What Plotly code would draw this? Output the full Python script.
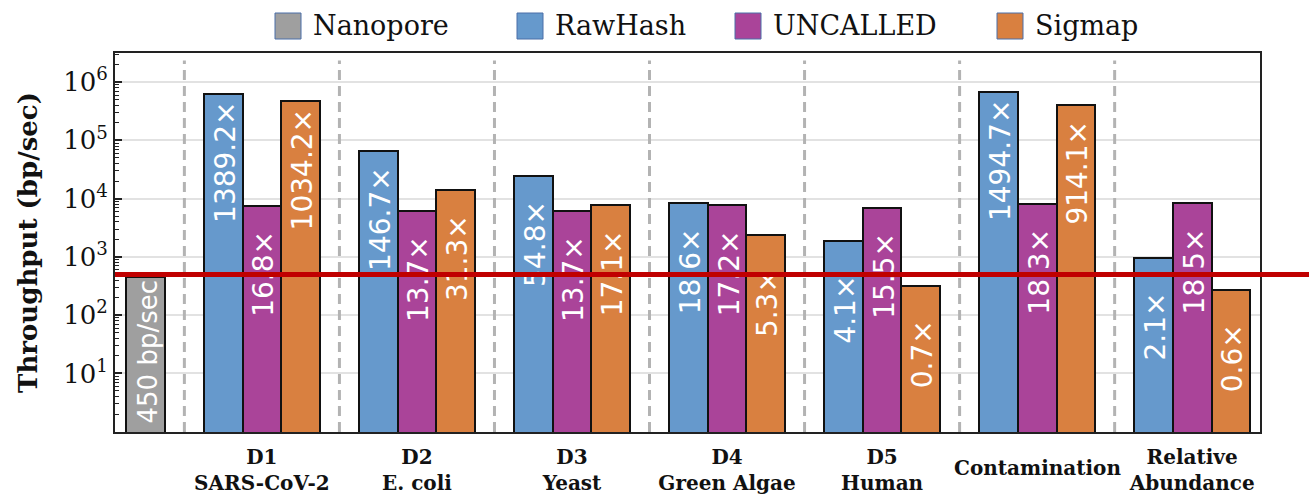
import math
import plotly.graph_objects as go

# ---------------- data ----------------
datasets = ["D1<br>SARS-CoV-2", "D2<br>E. coli", "D3<br>Yeast", "D4<br>Green Algae",
            "D5<br>Human", "Contamination", "Relative<br>Abundance"]
series_names = ["RawHash", "UNCALLED", "Sigmap"]
nanopore_name = "Nanopore"
nanopore_value = 450
nanopore_label = "450 bp/sec"
reference_line = 500

rawhash_values = [625140, 66015, 24660, 8370, 1845, 672615, 945]
uncalled_values = [7560, 6165, 6165, 7740, 6975, 8235, 8325]
sigmap_values = [465390, 14085, 7695, 2385, 315, 411345, 270]

rawhash_labels = ["1389.2×", "146.7×", "54.8×", "18.6×", "4.1×", "1494.7×", "2.1×"]
uncalled_labels = ["16.8×", "13.7×", "13.7×", "17.2×", "15.5×", "18.3×", "18.5×"]
sigmap_labels = ["1034.2×", "31.3×", "17.1×", "5.3×", "0.7×", "914.1×", "0.6×"]

y_tick_exponents = [1, 2, 3, 4, 5, 6]

# ---------------- style ----------------
colors = {"Nanopore": "#9f9f9f", "RawHash": "#6699cc", "UNCALLED": "#aa4499", "Sigmap": "#d98040"}
SERIF = "DejaVu Serif"
SANS = "DejaVu Sans"
GROUP_STEP = 4
offsets = [-1, 0, 1]
NANO_X = -3
X_RANGE = [-3.79, 25.75]
LABEL_DROP = 1.17       # decades below bar top where the label is centred
NANO_LABEL_DROP = 1.28

values = [rawhash_values, uncalled_values, sigmap_values]
labels = [rawhash_labels, uncalled_labels, sigmap_labels]
centers = [GROUP_STEP * i for i in range(len(datasets))]

PLOT_L, PLOT_W, PLOT_B, PLOT_H = 115, 1145, 432, 379

fig = go.Figure()

fig.add_trace(go.Bar(
    x=[NANO_X], y=[nanopore_value], width=1, name=nanopore_name,
    marker=dict(color=colors[nanopore_name], line=dict(color="#111111", width=2)),
    showlegend=False, hoverinfo="skip"))

for name, off, vals in zip(series_names, offsets, values):
    fig.add_trace(go.Bar(
        x=[c + off for c in centers], y=vals, width=1, name=name,
        marker=dict(color=colors[name], line=dict(color="#111111", width=2)),
        showlegend=False))

shapes = []

# dashed separators
for c in centers:
    shapes.append(dict(type="line", xref="x", yref="paper", x0=c - GROUP_STEP / 2, x1=c - GROUP_STEP / 2,
                       y0=0, y1=0.98, line=dict(color="#b3b3b3", width=3, dash="10px,6px"), layer="above"))


def label_shape(x, v, txt, drop, size):
    mid = math.log10(v) - drop
    return dict(type="rect", xref="x", yref="y", x0=x - 0.5, x1=x + 0.5,
                y0=10 ** (mid - 0.3), y1=10 ** (mid + 0.3),
                line=dict(width=0), fillcolor="rgba(0,0,0,0)", layer="above",
                label=dict(text=txt, textangle=-90, textposition="middle center",
                           font=dict(family=SANS, size=size, color="white")))


shapes.append(label_shape(NANO_X, nanopore_value, nanopore_label, NANO_LABEL_DROP, 26))
for off, vals, labs in zip(offsets, values, labels):
    for c, v, t in zip(centers, vals, labs):
        shapes.append(label_shape(c + off, v, t, LABEL_DROP, 28))

# red reference line (extends beyond plot area to the right)
shapes.append(dict(type="line", xref="paper", yref="y", x0=0, x1=1.06,
                   y0=reference_line, y1=reference_line,
                   line=dict(color="#c00000", width=5), layer="above"))

# manual legend
legend_names = [nanopore_name] + series_names
legend_square_px = [275, 517, 735, 997]
annotations = []
for name, px in zip(legend_names, legend_square_px):
    shapes.append(dict(type="rect", xref="paper", yref="paper",
                       x0=(px - PLOT_L) / PLOT_W, x1=(px + 26 - PLOT_L) / PLOT_W,
                       y0=(PLOT_B - 39) / PLOT_H, y1=(PLOT_B - 13) / PLOT_H,
                       fillcolor=colors[name], line=dict(color="#4a6fa8", width=1)))
    annotations.append(dict(xref="paper", yref="paper", x=(px + 36 - PLOT_L) / PLOT_W,
                            y=(PLOT_B - 26) / PLOT_H, xanchor="left", yanchor="middle",
                            text=name, showarrow=False,
                            font=dict(family=SERIF, size=27, color="#111111")))

# single-line category label centred between the two label lines
ticktext = []
for c, d in zip(centers, datasets):
    if "<br>" in d:
        ticktext.append("<b>" + d + "</b>")
    else:
        ticktext.append("")
        annotations.append(dict(xref="x", yref="paper", x=c, y=(PLOT_B - 468) / PLOT_H,
                                xanchor="center", yanchor="middle", showarrow=False,
                                text="<b>" + d + "</b>",
                                font=dict(family=SERIF, size=20, color="#111111")))

minor_vals = [k * 10 ** d for d in range(0, 7) for k in range(2, 10)]

fig.update_layout(
    width=1309, height=497,
    margin=dict(l=PLOT_L, r=1309 - PLOT_L - PLOT_W, t=PLOT_B - PLOT_H, b=497 - PLOT_B, autoexpand=False),
    paper_bgcolor="white", plot_bgcolor="white",
    barmode="overlay", bargap=0,
    showlegend=False,
    shapes=shapes, annotations=annotations,
    xaxis=dict(range=X_RANGE, tickmode="array", tickvals=centers, ticktext=ticktext,
               tickfont=dict(family=SERIF, size=20, color="#111111"), ticklabelstandoff=6,
               ticks="", showgrid=False, zeroline=False, automargin=False,
               showline=True, linecolor="#222222", linewidth=2, mirror=True,
               minor=dict(ticks="inside", ticklen=5, tickwidth=2, tickcolor="#222222",
                          tickmode="array", tickvals=[c - GROUP_STEP / 2 for c in centers], showgrid=False)),
    yaxis=dict(type="log", range=[-0.005, 6.5],
               tickmode="array", tickvals=[10 ** e for e in y_tick_exponents],
               ticktext=["10<sup>%d</sup>" % e for e in y_tick_exponents],
               tickfont=dict(family=SERIF, size=26, color="#111111"),
               ticks="inside", ticklen=7, tickwidth=1.5, tickcolor="#222222",
               showgrid=True, gridcolor="#e2e2e2", gridwidth=1.5, zeroline=False, automargin=False,
               showline=True, linecolor="#222222", linewidth=2, mirror=True,
               minor=dict(ticks="inside", ticklen=4, tickwidth=1, tickcolor="#222222",
                          tickmode="array", tickvals=minor_vals, showgrid=False),
               title=dict(text="<b>Throughput (bp/sec)</b>", standoff=18,
                          font=dict(family=SERIF, size=26, color="#111111"))),
)

fig.write_html("out.html", config={"displayModeBar": False},
               post_script="document.body.style.margin='0';document.body.style.overflow='hidden';")
